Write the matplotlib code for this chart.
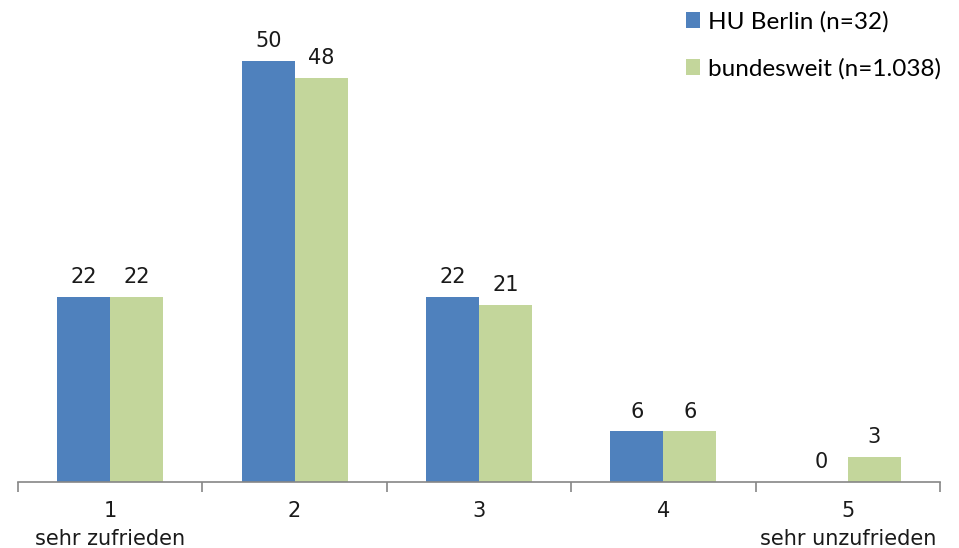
import matplotlib.pyplot as plt
import numpy as np

categories = ["1\nsehr zufrieden", "2", "3", "4", "5\nsehr unzufrieden"]
hu_berlin = [22, 50, 22, 6, 0]
bundesweit = [22, 48, 21, 6, 3]
series_labels = ["HU Berlin (n=32)", "bundesweit (n=1.038)"]

C_BLUE = "#4F81BD"
C_GREEN = "#C3D69B"

fig = plt.figure(figsize=(9.59, 5.48), dpi=100)
ax = fig.add_axes([18 / 959, 1 - 482 / 548, 922 / 959, 480 / 548])

x = np.arange(len(categories))
w = 0.287
b1 = ax.bar(x - w / 2, hu_berlin, width=w, color=C_BLUE, label=series_labels[0])
b2 = ax.bar(x + w / 2, bundesweit, width=w, color=C_GREEN, label=series_labels[1])

for bars, vals in ((b1, hu_berlin), (b2, bundesweit)):
    for rect, v in zip(bars, vals):
        ax.annotate(f"{v}", (rect.get_x() + rect.get_width() / 2, v),
                    xytext=(0, 7), textcoords="offset points",
                    ha="center", va="bottom", fontsize=15, color="#1a1a1a",
                    family="DejaVu Sans")

ax.set_xlim(-0.5, len(categories) - 0.5)
ax.set_ylim(0, 57)
ax.set_yticks([])
for s in ("left", "right", "top"):
    ax.spines[s].set_visible(False)
ax.spines["bottom"].set_color("#868686")
ax.spines["bottom"].set_linewidth(1.2)

ax.set_xticks(x)
ax.set_xticklabels(categories, fontsize=15, color="#1a1a1a", family="DejaVu Sans",
                   linespacing=1.45)
ax.tick_params(axis="x", which="major", length=0, pad=14)
ax.set_xticks(np.arange(-0.5, len(categories)), minor=True)
ax.tick_params(axis="x", which="minor", length=7, color="#868686", width=1.2)

leg = fig.legend(loc="upper left", bbox_to_anchor=(664 / 959, 1.02), frameon=False,
                 prop={"family": "Lato", "size": 17.5}, handlelength=0.6,
                 handleheight=0.6, handletextpad=0.3, labelspacing=1.05)

fig.savefig("out.png", dpi=100)
